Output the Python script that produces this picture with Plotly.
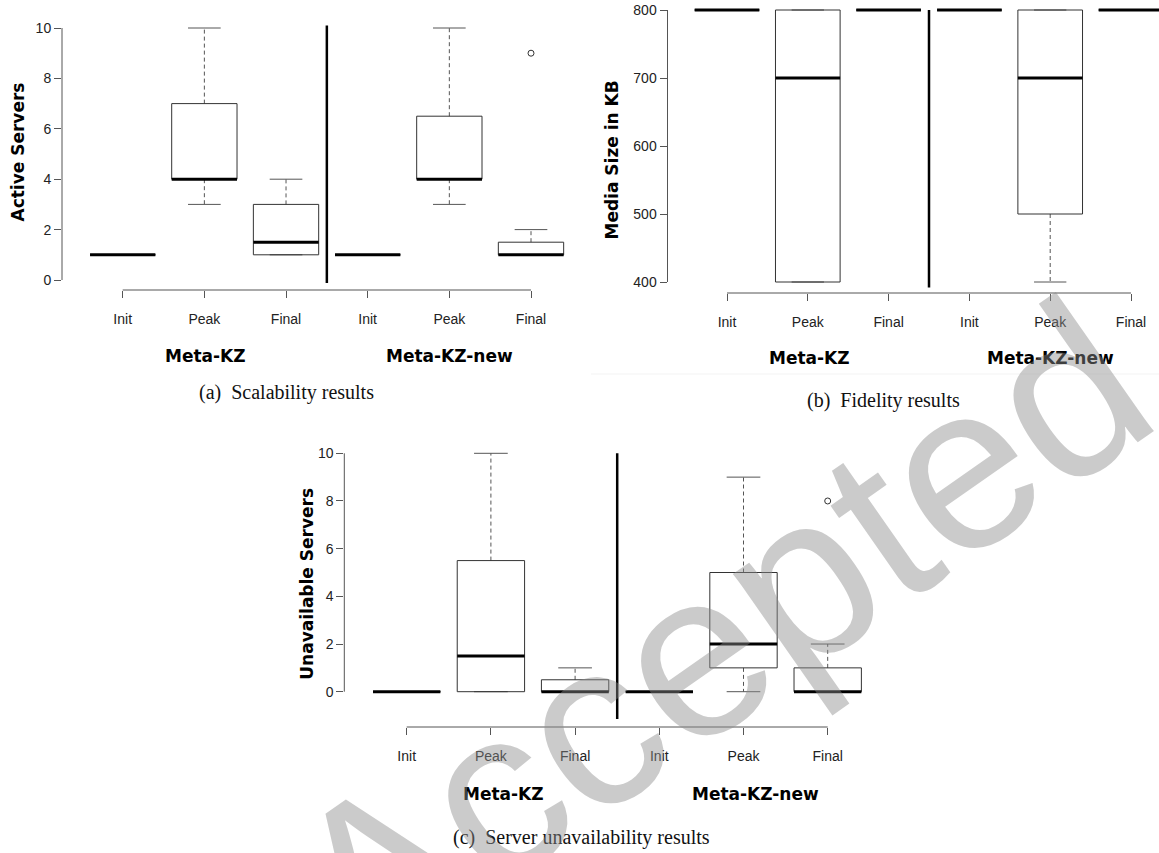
import plotly.graph_objects as go

W, H = 1159, 853

categories = ["Init", "Peak", "Final", "Init", "Peak", "Final"]
groups = ["Meta-KZ", "Meta-KZ-new"]

# (a) Active servers: box statistics per category
a_lower = [1, 3, 1, 1, 3, 1]
a_q1 = [1, 4, 1, 1, 4, 1]
a_median = [1, 4, 1.5, 1, 4, 1]
a_q3 = [1, 7, 3, 1, 6.5, 1.5]
a_upper = [1, 10, 4, 1, 10, 2]
a_outliers = [[], [], [], [], [], [9]]
a_yticks = [0, 2, 4, 6, 8, 10]

# (b) Media size in KB
b_lower = [800, 400, 800, 800, 400, 800]
b_q1 = [800, 400, 800, 800, 500, 800]
b_median = [800, 700, 800, 800, 700, 800]
b_q3 = [800, 800, 800, 800, 800, 800]
b_upper = [800, 800, 800, 800, 800, 800]
b_outliers = [[], [], [], [], [], []]
b_yticks = [400, 500, 600, 700, 800]

# (c) Unavailable servers
c_lower = [0, 0, 0, 0, 0, 0]
c_q1 = [0, 0, 0, 0, 1, 0]
c_median = [0, 1.5, 0, 0, 2, 0]
c_q3 = [0, 5.5, 0.5, 0, 5, 1]
c_upper = [0, 10, 1, 0, 9, 2]
c_outliers = [[], [], [], [], [], [8]]
c_yticks = [0, 2, 4, 6, 8, 10]

titles = ["Active Servers", "Media Size in KB", "Unavailable Servers"]
captions = ["(a)\u00a0 Scalability results", "(b)\u00a0 Fidelity results",
            "(c)\u00a0 Server unavailability results"]


def lin(v0, p0, v1, p1, pa, pb):
    s = (v1 - v0) / (p1 - p0)
    return [v0 + (pa - p0) * s, v0 + (pb - p0) * s]


# layout geometry (pixels)
panels = [
    dict(ax="x", ay="y", stats=(a_lower, a_q1, a_median, a_q3, a_upper, a_outliers), yticks=a_yticks,
         xmap=(122.7, 531.0), xdom=(62.0, 591.5), ymap=(0, 280.0, 10, 28.0), ydom=(290.0, 8.0),
         sep=(10.1, -0.12), title_xy=(17.5, 152), cap_xy=(286, 392), grp_y=356, grp_dx=(0.02, 0.0)),
    dict(ax="x2", ay="y2", stats=(b_lower, b_q1, b_median, b_q3, b_upper, b_outliers), yticks=b_yticks,
         xmap=(727.0, 1131.0), xdom=(667.5, 1159.0), ymap=(400, 282.0, 800, 10.0), ydom=(293.0, 0.0),
         sep=(800, 392), title_xy=(611.5, 160), cap_xy=(883, 400), grp_y=358, grp_dx=(0.02, 0.0)),
    dict(ax="x3", ay="y3", stats=(c_lower, c_q1, c_median, c_q3, c_upper, c_outliers), yticks=c_yticks,
         xmap=(406.7, 827.7), xdom=(344.3, 890.0), ymap=(0, 691.7, 10, 453.3), ydom=(727.0, 440.0),
         sep=(10, -1.15), title_xy=(306.7, 584), cap_xy=(581, 837), grp_y=794, grp_dx=(0.15, 0.14)),
]

fig = go.Figure()
shapes = []
annotations = []
BW = 0.4   # half box width (category units)
CW = 0.2   # half cap width
pos = [i + 1 for i in range(len(categories))]

for k, p in enumerate(panels):
    lower, q1, med, q3, upper, outl = p["stats"]
    wx, wy, cx, cy, bx, by, mx, my, ox, oy = [], [], [], [], [], [], [], [], [], []
    for i, x in enumerate(pos):
        if upper[i] > q3[i]:
            wx += [x, x, None]; wy += [q3[i], upper[i], None]
        if lower[i] < q1[i]:
            wx += [x, x, None]; wy += [q1[i], lower[i], None]
        cx += [x - CW, x + CW, None, x - CW, x + CW, None]
        cy += [upper[i], upper[i], None, lower[i], lower[i], None]
        bx += [x - BW, x + BW, x + BW, x - BW, x - BW, None]
        by += [q1[i], q1[i], q3[i], q3[i], q1[i], None]
        mx += [x - BW, x + BW, None]; my += [med[i], med[i], None]
        for o in outl[i]:
            ox.append(x); oy.append(o)
    common = dict(xaxis=p["ax"], yaxis=p["ay"], showlegend=False, hoverinfo="skip", mode="lines")
    fig.add_trace(go.Scatter(x=wx, y=wy, line=dict(color="#555555", width=1, dash="4px,3px"), **common))
    fig.add_trace(go.Scatter(x=cx, y=cy, line=dict(color="#555555", width=1), **common))
    fig.add_trace(go.Scatter(x=bx, y=by, line=dict(color="#333333", width=1), **common))
    fig.add_trace(go.Scatter(x=mx, y=my, line=dict(color="#000000", width=3), **common))
    if ox:
        fig.add_trace(go.Scatter(x=ox, y=oy, mode="markers", xaxis=p["ax"], yaxis=p["ay"],
                                 showlegend=False, hoverinfo="skip",
                                 marker=dict(symbol="circle-open", size=6, color="#333333",
                                             line=dict(width=1))))
    # separator between the two groups
    sep_x = (len(categories) + 1) / 2
    fig.add_trace(go.Scatter(x=[sep_x, sep_x], y=list(p["sep"]), line=dict(color="#000000", width=2.5),
                             **common))

    xr = lin(1, p["xmap"][0], len(categories), p["xmap"][1], p["xdom"][0], p["xdom"][1])
    y0v, y0p, y1v, y1p = p["ymap"]
    yr = lin(y0v, y0p, y1v, y1p, p["ydom"][0], p["ydom"][1])
    suffix = "" if k == 0 else str(k + 1)
    tickfont = dict(family="Liberation Sans, Arial", size=14, color="#222222")
    fig.update_layout(**{
        "xaxis" + suffix: dict(domain=[p["xdom"][0] / W, p["xdom"][1] / W], range=xr,
                               tickmode="array", tickvals=pos, ticktext=categories,
                               ticks="outside", ticklen=7, tickcolor="#555555", tickwidth=1,
                               showline=False, showgrid=False, zeroline=False,
                               tickfont=tickfont, ticklabelstandoff=9, fixedrange=True,
                               anchor="y" + suffix),
        "yaxis" + suffix: dict(domain=[1 - p["ydom"][0] / H, 1 - p["ydom"][1] / H], range=yr,
                               tickmode="array", tickvals=p["yticks"],
                               ticks="outside", ticklen=7, tickcolor="#555555", tickwidth=1,
                               showline=False, showgrid=False, zeroline=False,
                               tickfont=tickfont, fixedrange=True, anchor="x" + suffix),
    })
    # R-style axis lines spanning only the tick range
    shapes.append(dict(type="line", xref=p["ax"], yref=p["ay"] + " domain", x0=pos[0], x1=pos[-1],
                       y0=0, y1=0, line=dict(color="#555555", width=1)))
    shapes.append(dict(type="line", xref=p["ax"] + " domain", yref=p["ay"], x0=0, x1=0,
                       y0=min(p["yticks"]), y1=max(p["yticks"]), line=dict(color="#555555", width=1)))
    # y-axis title
    annotations.append(dict(text="<b>" + titles[k] + "</b>", xref="paper", yref="paper",
                            x=p["title_xy"][0] / W, y=1 - p["title_xy"][1] / H, textangle=-90,
                            showarrow=False, xanchor="center", yanchor="middle",
                            font=dict(family="DejaVu Sans", size=17, color="#000000")))
    # group labels
    for g, name in enumerate(groups):
        annotations.append(dict(text="<b>" + name + "</b>", xref=p["ax"], yref="paper",
                                x=2 + 3 * g + p["grp_dx"][g], y=1 - p["grp_y"] / H,
                                showarrow=False, xanchor="center", yanchor="middle",
                                font=dict(family="DejaVu Sans", size=17, color="#000000")))
    # caption
    annotations.append(dict(text=captions[k], xref="paper", yref="paper",
                            x=p["cap_xy"][0] / W, y=1 - p["cap_xy"][1] / H, showarrow=False,
                            xanchor="center", yanchor="middle",
                            font=dict(family="Liberation Serif", size=20, color="#111111")))

# faint panel edge under (b)
shapes.append(dict(type="line", xref="paper", yref="paper", x0=591 / W, x1=1.0,
                   y0=1 - 374 / H, y1=1 - 374 / H, line=dict(color="#f3f3f3", width=1)))

# watermark
annotations.append(dict(text="Accepted", xref="paper", yref="paper", x=718 / W, y=1 - 636 / H,
                        textangle=-35, showarrow=False, xanchor="center", yanchor="middle",
                        font=dict(family="Liberation Sans, Arial", size=235,
                                  color="rgba(140,140,140,0.45)")))

fig.update_layout(width=W, height=H, margin=dict(l=0, r=0, t=0, b=0), autosize=False,
                  paper_bgcolor="white", plot_bgcolor="white",
                  shapes=shapes, annotations=annotations)

fig.write_html("out.html")
